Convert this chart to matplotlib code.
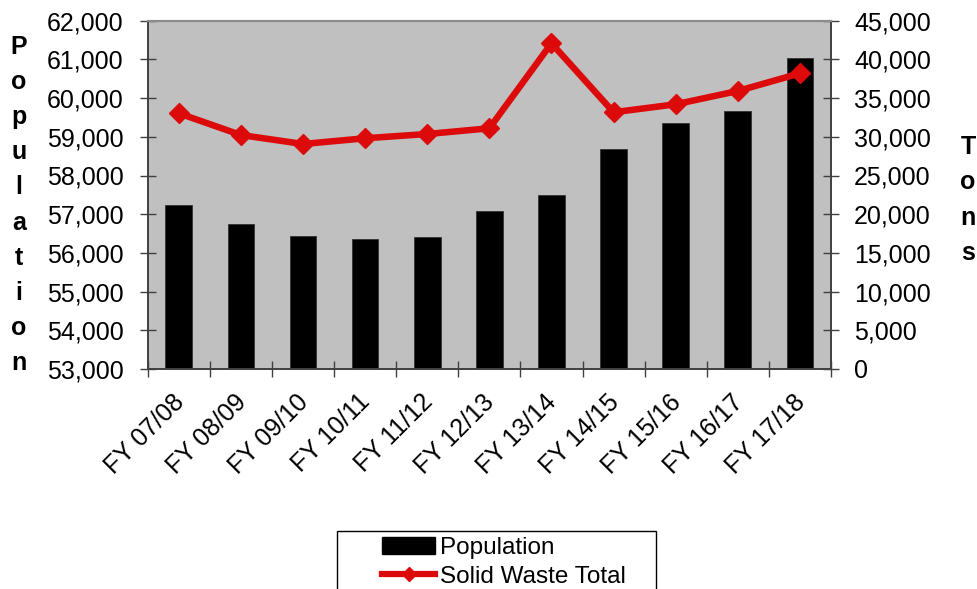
import numpy as np
import matplotlib
matplotlib.use("Agg")
import matplotlib.pyplot as plt
from matplotlib.patches import Rectangle
from matplotlib.lines import Line2D
from matplotlib.patches import Patch
from matplotlib.ticker import FuncFormatter
import matplotlib.transforms as mtransforms

plt.rcParams['font.family'] = ['Liberation Sans', 'DejaVu Sans']

categories = ["FY 07/08", "FY 08/09", "FY 09/10", "FY 10/11", "FY 11/12", "FY 12/13",
              "FY 13/14", "FY 14/15", "FY 15/16", "FY 16/17", "FY 17/18"]
population = [57240, 56755, 56430, 56350, 56410, 57090, 57500, 58685, 59350, 59660, 61030]
solid_waste = [33040, 30230, 29070, 29810, 30360, 31100, 42080, 33170, 34200, 35920, 38200]

W, H = 977, 589
FS = 18
RED = "#DC0A0A"
fig = plt.figure(figsize=(W / 100, H / 100), dpi=100)
fig.patch.set_facecolor("white")

left, right, top, bottom = 147.7, 831.0, 20.7, 369.0
ax = fig.add_axes([left / W, 1 - bottom / H, (right - left) / W, (bottom - top) / H])
ax.set_facecolor("#C0C0C0")

x = np.arange(len(categories))
ax.bar(x, population, width=0.43, bottom=0, color="black", edgecolor="#333333",
       linewidth=0.6, zorder=2)
ax.set_ylim(53000, 62000)
ax.set_xlim(-0.5, len(categories) - 0.5)

ax2 = ax.twinx()
ax2.plot(x, solid_waste, color=RED, linewidth=4.7, marker="D", markersize=10.5,
         markerfacecolor=RED, markeredgecolor=RED, zorder=3)
ax2.set_ylim(0, 45000)

fmt = FuncFormatter(lambda v, p: f"{int(v):,}")
ax.set_yticks(np.arange(53000, 62001, 1000))
ax.yaxis.set_major_formatter(fmt)
ax2.set_yticks(np.arange(0, 45001, 5000))
ax2.yaxis.set_major_formatter(fmt)

# category boundary ticks, labels centred on each bar
ax.set_xticks(np.arange(-0.5, len(categories)))
ax.set_xticklabels([])
ax.set_xticks(x, minor=True)
ax.set_xticklabels(categories, minor=True, rotation=45, ha="right", va="top",
                   rotation_mode="anchor", fontsize=FS)
ax.tick_params(axis="x", which="minor", length=0, pad=15)
ax.tick_params(axis="x", which="major", direction="inout", length=11, width=1, color="#404040")
offset = mtransforms.ScaledTranslation(-7 / 100, 0, fig.dpi_scale_trans)
for lab in ax.get_xticklabels(minor=True):
    lab.set_transform(lab.get_transform() + offset)

ax.tick_params(axis="y", direction="inout", length=11, width=1, color="#404040",
               labelsize=FS, pad=12)
ax2.tick_params(axis="y", direction="inout", length=11, width=1, color="#404040",
                labelsize=FS, pad=11)

for a in (ax, ax2):
    a.spines["top"].set_color("#8C8C8C")
    a.spines["top"].set_linewidth(1.5)
    for s in ("left", "right", "bottom"):
        a.spines[s].set_color("#404040")
        a.spines[s].set_linewidth(1.2)

ax.set_zorder(ax2.get_zorder() - 1)
ax2.patch.set_visible(False)

# stacked axis titles
fig.text(19 / W, 1 - 205 / H, "\n".join("Population"), ha="center", va="center",
         fontsize=FS, fontweight="bold", linespacing=1.58)
fig.text(968 / W, 1 - 200 / H, "\n".join("Tons"), ha="center", va="center",
         fontsize=FS, fontweight="bold", linespacing=1.58)

# legend with its box
handles = [Patch(facecolor="black", edgecolor="black"),
           Line2D([0], [0], color=RED, linewidth=4.5, marker="D", markersize=7)]
leg = fig.legend(handles, ["Population", "Solid Waste Total"], loc="upper left",
                 bbox_to_anchor=(382 / W, 1 - 537 / H), frameon=False, fontsize=17.5,
                 handlelength=2.2, handleheight=0.7, handletextpad=0.2,
                 labelspacing=0.27, borderpad=0, borderaxespad=0)
fig.patches.append(Rectangle((337 / W, -0.05), (656 - 337) / W, 0.05 + (1 - 531 / H),
                             transform=fig.transFigure, fill=False, edgecolor="black",
                             linewidth=1.0))

fig.savefig("out.png", dpi=100)
